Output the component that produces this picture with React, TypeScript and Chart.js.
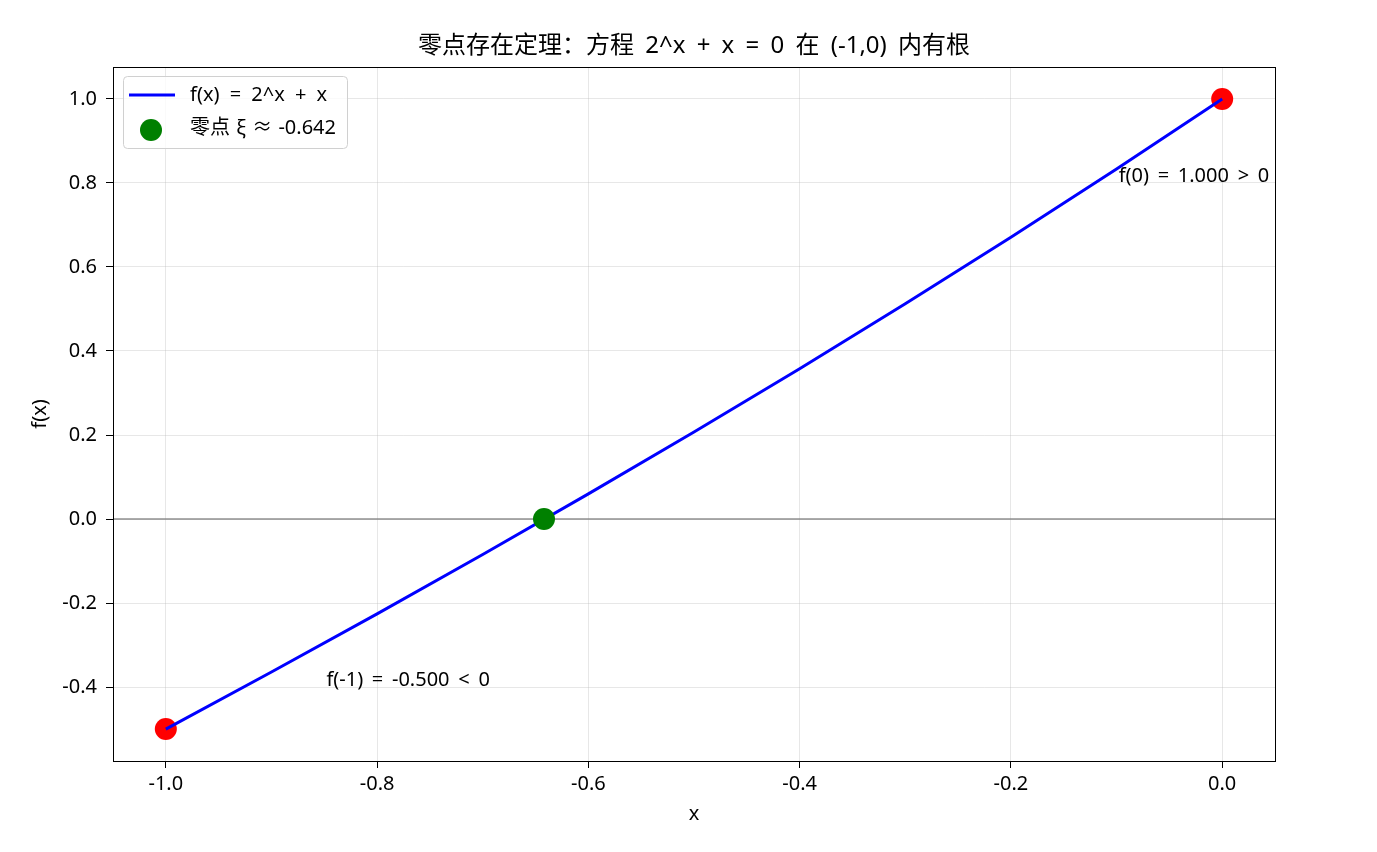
import React, { useEffect, useRef } from "react";
import { Chart, registerables } from "chart.js";

Chart.register(...registerables);

// ---- data ----
const curveX = [-1.0, -0.9, -0.8, -0.7, -0.6, -0.5, -0.4, -0.3, -0.2, -0.1, 0.0];
const curveY = [-0.5, -0.3641, -0.2257, -0.0844, 0.0598, 0.2071, 0.3579, 0.5123, 0.6706, 0.833, 1.0];
const endpointX = [-1.0, 0.0];
const endpointY = [-0.5, 1.0];
const rootX = [-0.642];
const rootY = [0.0];
const xTicks = [-1.0, -0.8, -0.6, -0.4, -0.2, 0.0];
const yTicks = [-0.4, -0.2, 0.0, 0.2, 0.4, 0.6, 0.8, 1.0];
const annotationTexts = ["f(-1) = -0.500 < 0", "f(0) = 1.000 > 0"];
const annotationX = [-0.848, -0.098];
const annotationY = [-0.383, 0.817];

const TITLE = "零点存在定理：方程 2^x + x = 0 在 (-1,0) 内有根";
const XLABEL = "x";
const YLABEL = "f(x)";
const LEGEND_LINE = "f(x) = 2^x + x";
const LEGEND_ROOT = "零点 ξ ≈ -0.642";

const FONT = '"Noto Sans", "Noto Sans CJK SC", sans-serif';

const fmt = (v: number) => (Math.abs(v) < 1e-9 ? 0 : v).toFixed(1);

const setSpacing = (ctx: any, ws: number) => {
  try {
    ctx.wordSpacing = `${ws}px`;
  } catch (e) {}
};

const decorPlugin = {
  id: "decor",
  beforeDatasetsDraw(chart: any) {
    const { ctx, chartArea, scales } = chart;
    const y0 = scales.y.getPixelForValue(0);
    ctx.save();
    ctx.beginPath();
    ctx.rect(chartArea.left, chartArea.top, chartArea.right - chartArea.left, chartArea.bottom - chartArea.top);
    ctx.clip();
    ctx.strokeStyle = "rgba(128,128,128,0.65)";
    ctx.lineWidth = 2;
    ctx.beginPath();
    ctx.moveTo(chartArea.left, y0);
    ctx.lineTo(chartArea.right, y0);
    ctx.stroke();
    ctx.restore();
  },
  afterDraw(chart: any) {
    const { ctx, chartArea, scales } = chart;
    const { left, right, top, bottom } = chartArea;
    ctx.save();
    // frame
    ctx.strokeStyle = "#000";
    ctx.lineWidth = 1;
    ctx.strokeRect(Math.round(left) + 0.5, Math.round(top) + 0.5, Math.round(right - left), Math.round(bottom - top));

    // title
    ctx.fillStyle = "#000";
    ctx.font = `24px ${FONT}`;
    ctx.textAlign = "center";
    ctx.textBaseline = "middle";
    setSpacing(ctx, 5);
    ctx.fillText(TITLE, (left + right) / 2, 46);
    setSpacing(ctx, 0);

    // axis labels
    ctx.font = `20px ${FONT}`;
    ctx.fillText(XLABEL, (left + right) / 2, 814);
    ctx.save();
    ctx.translate(40, (top + bottom) / 2);
    ctx.rotate(-Math.PI / 2);
    ctx.fillText(YLABEL, 0, 0);
    ctx.restore();

    // annotations
    ctx.textAlign = "left";
    ctx.font = `20px ${FONT}`;
    setSpacing(ctx, 3.5);
    annotationTexts.forEach((t, i) => {
      ctx.fillText(t, scales.x.getPixelForValue(annotationX[i]), scales.y.getPixelForValue(annotationY[i]));
    });
    setSpacing(ctx, 0);

    // legend
    const lx = 123.5, ly = 76.5, lw = 224, lh = 72, r = 4;
    ctx.beginPath();
    ctx.moveTo(lx + r, ly);
    ctx.lineTo(lx + lw - r, ly);
    ctx.quadraticCurveTo(lx + lw, ly, lx + lw, ly + r);
    ctx.lineTo(lx + lw, ly + lh - r);
    ctx.quadraticCurveTo(lx + lw, ly + lh, lx + lw - r, ly + lh);
    ctx.lineTo(lx + r, ly + lh);
    ctx.quadraticCurveTo(lx, ly + lh, lx, ly + lh - r);
    ctx.lineTo(lx, ly + r);
    ctx.quadraticCurveTo(lx, ly, lx + r, ly);
    ctx.closePath();
    ctx.fillStyle = "rgba(255,255,255,0.8)";
    ctx.fill();
    ctx.strokeStyle = "#d0d0d0";
    ctx.lineWidth = 1;
    ctx.stroke();

    ctx.strokeStyle = "#0000ff";
    ctx.lineWidth = 3;
    ctx.beginPath();
    ctx.moveTo(129, 95);
    ctx.lineTo(175, 95);
    ctx.stroke();

    ctx.fillStyle = "#008000";
    ctx.beginPath();
    ctx.arc(151, 130, 11, 0, Math.PI * 2);
    ctx.fill();

    ctx.fillStyle = "#000";
    ctx.textBaseline = "middle";
    ctx.font = `20px ${FONT}`;
    setSpacing(ctx, 5);
    ctx.fillText(LEGEND_LINE, 190, 95);
    setSpacing(ctx, 1);
    ctx.fillText(LEGEND_ROOT, 190, 128);
    setSpacing(ctx, 0);
    ctx.restore();
  },
};

export default function App() {
  const ref = useRef<HTMLCanvasElement>(null);
  useEffect(() => {
    if (!ref.current) return;
    const tickFont = { family: FONT, size: 20 };
    const chart = new Chart(ref.current, {
      type: "scatter",
      data: {
        datasets: [
          {
            label: LEGEND_ROOT,
            data: rootX.map((x, i) => ({ x, y: rootY[i] })),
            backgroundColor: "#008000",
            borderColor: "#008000",
            pointRadius: 11,
            borderWidth: 0,
            order: 0,
          },
          {
            label: LEGEND_LINE,
            data: curveX.map((x, i) => ({ x, y: curveY[i] })),
            showLine: true,
            borderColor: "#0000ff",
            backgroundColor: "#0000ff",
            borderWidth: 3,
            pointRadius: 0,
            tension: 0,
            order: 1,
          },
          {
            label: "endpoints",
            data: endpointX.map((x, i) => ({ x, y: endpointY[i] })),
            backgroundColor: "#ff0000",
            borderColor: "#ff0000",
            pointRadius: 11,
            borderWidth: 0,
            order: 2,
          },
        ],
      },
      options: {
        animation: false,
        responsive: false,
        maintainAspectRatio: false,
        layout: { padding: { left: 0, top: 67, right: 102, bottom: 0 } },
        plugins: {
          legend: { display: false },
          title: { display: false },
          tooltip: { enabled: false },
        },
        scales: {
          x: {
            type: "linear",
            min: -1.05,
            max: 0.05,
            afterBuildTicks: (s: any) => {
              s.ticks = xTicks.map((v) => ({ value: v }));
            },
            afterFit: (s: any) => {
              s.height = 91;
            },
            ticks: {
              callback: (v: any) => fmt(Number(v)),
              font: tickFont,
              color: "#000",
              padding: 4,
              maxRotation: 0,
              autoSkip: false,
            },
            grid: {
              color: "rgba(176,176,176,0.3)",
              lineWidth: 1,
              tickColor: "#000",
              tickLength: 7,
              tickWidth: 1,
            },
            border: { display: false },
          },
          y: {
            type: "linear",
            min: -0.576,
            max: 1.076,
            afterBuildTicks: (s: any) => {
              s.ticks = yTicks.map((v) => ({ value: v }));
            },
            afterFit: (s: any) => {
              s.width = 113;
            },
            ticks: {
              callback: (v: any) => fmt(Number(v)),
              font: tickFont,
              color: "#000",
              padding: 9,
              autoSkip: false,
            },
            grid: {
              color: "rgba(176,176,176,0.3)",
              lineWidth: 1,
              tickColor: "#000",
              tickLength: 7,
              tickWidth: 1,
            },
            border: { display: false },
          },
        },
      },
      plugins: [decorPlugin],
    } as any);
    return () => chart.destroy();
  }, []);
  return (
    <div style={{ position: "fixed", left: 0, top: 0, width: 1377, height: 852, background: "#fff" }}>
      <canvas ref={ref} width={1377} height={852} style={{ display: "block", width: 1377, height: 852 }} />
    </div>
  );
}
